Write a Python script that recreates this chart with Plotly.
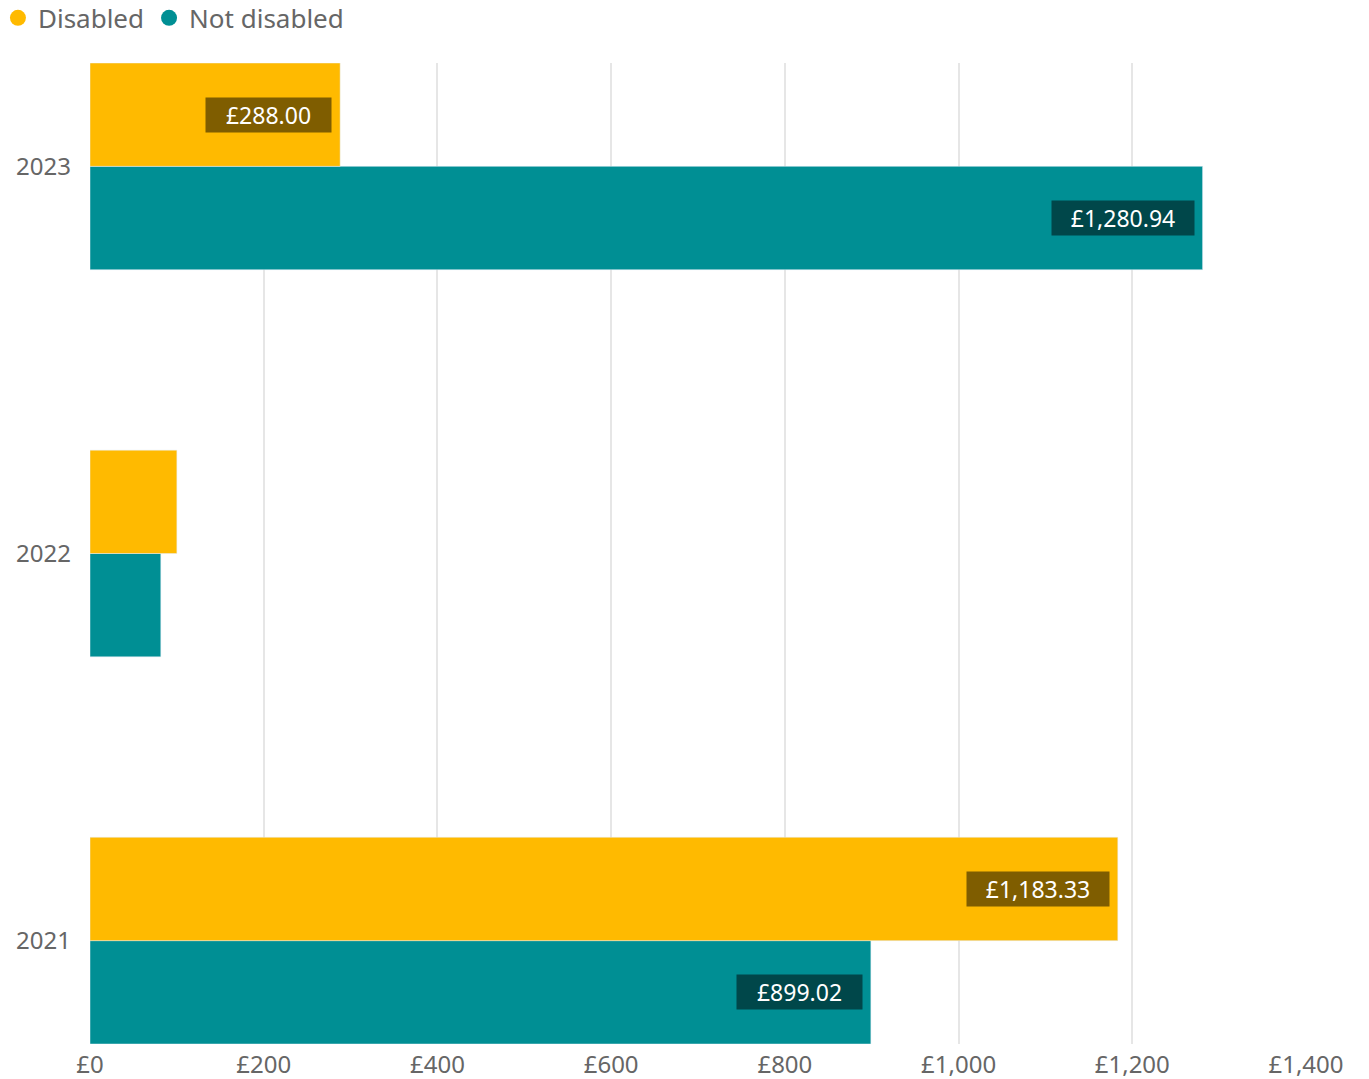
import plotly.graph_objects as go

# Data
years = ["2021", "2022", "2023"]
disabled = [1183.33, 100.0, 288.00]
not_disabled = [899.02, 81.5, 1280.94]
disabled_labels = ["£1,183.33", "", "£288.00"]
not_disabled_labels = ["£899.02", "", "£1,280.94"]
x_ticks = [0, 200, 400, 600, 800, 1000, 1200, 1400]
x_tick_text = ["£0", "£200", "£400", "£600", "£800", "£1,000", "£1,200", "£1,400"]

GOLD = "#FFBA00"
GOLD_DARK = "#7F5D00"
TEAL = "#008F94"
TEAL_DARK = "#00474A"
FONT = "Noto Sans"
GREY = "#666666"

fig = go.Figure()

# legend entries with round markers
for name, color in [("Disabled", GOLD), ("Not disabled", TEAL)]:
    fig.add_trace(
        go.Scatter(
            x=[None], y=[None], mode="markers", name=name,
            marker=dict(color=color, size=20, symbol="circle"),
        )
    )

# bars: first trace sits at the bottom of each group
fig.add_trace(
    go.Bar(y=years, x=not_disabled, orientation="h", marker_color=TEAL,
           showlegend=False, hoverinfo="skip")
)
fig.add_trace(
    go.Bar(y=years, x=disabled, orientation="h", marker_color=GOLD,
           showlegend=False, hoverinfo="skip")
)


def box_width(label):
    # rough text width plus padding; commas are narrow
    return len(label.replace(",", "")) * 13 + label.count(",") * 4 + 34


# value labels (y given as category index, years look numeric otherwise)
for vals, labels, bg, shift in [
    (disabled, disabled_labels, GOLD_DARK, 51.75),
    (not_disabled, not_disabled_labels, TEAL_DARK, -51.75),
]:
    for i, (v, lab) in enumerate(zip(vals, labels)):
        if not lab:
            continue
        fig.add_annotation(
            x=v, y=i, xref="x", yref="y", text=lab, showarrow=False,
            xanchor="right", xshift=-8, yshift=shift,
            width=box_width(lab), height=34, borderpad=0,
            bgcolor=bg,
            font=dict(family=FONT, size=23, color="white"),
        )

fig.update_layout(
    width=1369,
    height=1079,
    barmode="group",
    bargap=0.466,
    bargroupgap=0,
    plot_bgcolor="white",
    paper_bgcolor="white",
    margin=dict(l=90, r=63, t=63, b=35, autoexpand=False),
    font=dict(family=FONT, size=24, color=GREY),
    legend=dict(
        orientation="h", x=-0.0757, xanchor="left", y=1.0459, yanchor="middle",
        font=dict(family=FONT, size=26, color=GREY),
        itemwidth=30, tracegroupgap=0,
    ),
    hovermode=False,
)
fig.update_xaxes(
    range=[0, 1400],
    tickvals=x_ticks,
    ticktext=x_tick_text,
    showgrid=True,
    gridcolor="#E6E6E6",
    gridwidth=2,
    zeroline=False,
    showline=False,
    automargin=False,
    ticklabelstandoff=4,
)
fig.update_yaxes(
    type="category",
    categoryorder="array",
    categoryarray=years,
    range=[-0.267, 2.267],
    showgrid=False,
    zeroline=False,
    ticklabelstandoff=18,
    automargin=False,
)

fig.write_html(
    "out.html",
    config={"displayModeBar": False},
    post_script="document.body.style.margin='0';",
)
